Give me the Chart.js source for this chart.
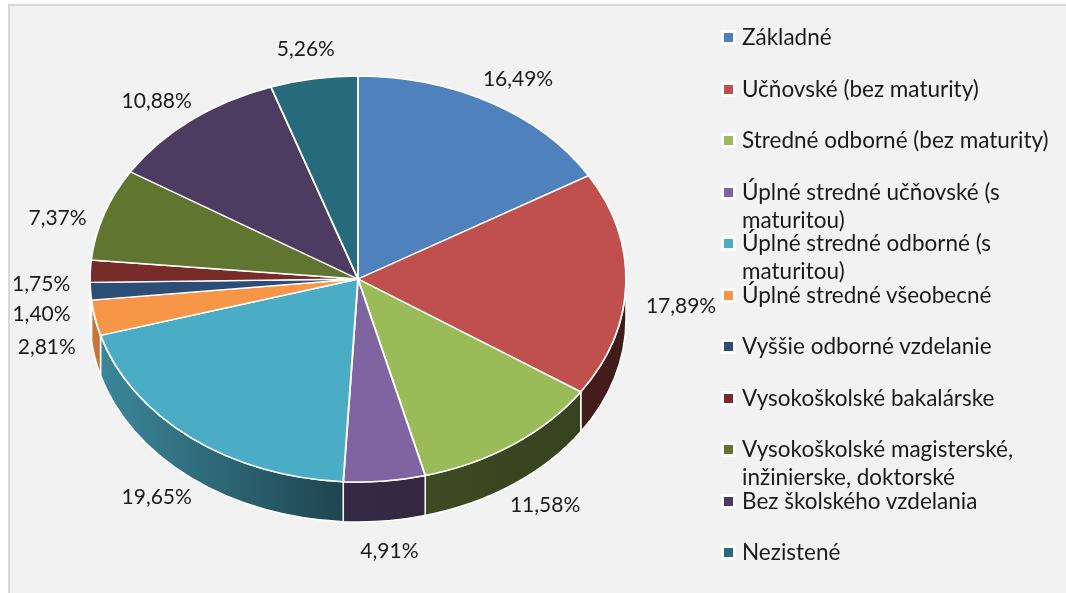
<!DOCTYPE html>
<html>
<head>
<meta charset="utf-8">
<script src="https://cdn.jsdelivr.net/npm/chart.js@4.4.1/dist/chart.umd.min.js"></script>
<style>
  html, body { margin: 0; padding: 0; background: #fff; width: 1066px; height: 593px; overflow: hidden; font-family: Lato, "Noto Sans", sans-serif; }
  #panel { position: absolute; left: 8px; top: 4px; width: 1070px; height: 600px; background: #f2f2f2; border: 2px solid #d9d9d9; box-sizing: border-box; }
  #chart { position: absolute; left: 0; top: 0; }
  #legend { position: absolute; left: 721px; top: 23px; }
  .item { position: absolute; left: 0; width: 345px; display: flex; align-items: flex-start; font-size: 22.5px; line-height: 28px; color: #1a1a1a; }
  .swatch { flex: none; width: 9px; height: 9px; border: 3px solid #fff; margin-top: 7px; margin-right: 6px; }
  .text { width: 320px; }
</style>
</head>
<body>
<div id="panel"></div>
<canvas id="chart" width="1066" height="593"></canvas>
<div id="legend"></div>
<script>
// === DATA ===
const categories = [
    "Základné",
    "Učňovské (bez maturity)",
    "Stredné odborné (bez maturity)",
    "Úplné stredné učňovské (s maturitou)",
    "Úplné stredné odborné (s maturitou)",
    "Úplné stredné všeobecné",
    "Vyššie odborné vzdelanie",
    "Vysokoškolské bakalárske",
    "Vysokoškolské magisterské, inžinierske, doktorské",
    "Bez školského vzdelania",
    "Nezistené"
];
const shares = [16.49, 17.89, 11.58, 4.91, 19.65, 2.81, 1.40, 1.75, 7.37, 10.88, 5.26];

// office 2010 palette
const colors = ["#4F81BD", "#C0504D", "#9BBB59", "#8064A2", "#4BACC6", "#F79646",
                "#2C4D75", "#772C2A", "#5F7530", "#4D3B62", "#276A7C"];

// === PIE GEOMETRY (screen) ===
const X0 = 358, Y0 = 279, RX = 268, RY = 203, DEPTH = 40;
const LABEL_FONT = "21px Lato, 'Noto Sans', sans-serif";
const LABEL_GAP_X = 20, LABEL_GAP_Y = 18;

function fmt(v) {
    return v.toFixed(2).replace(".", ",") + "%";
}

function shade(hex, f) {
    const n = parseInt(hex.slice(1), 16);
    const r = Math.round(((n >> 16) & 255) * f);
    const g = Math.round(((n >> 8) & 255) * f);
    const b = Math.round((n & 255) * f);
    return `rgb(${r},${g},${b})`;
}

// side walls of the 3d pie, from the arc elements
function drawWalls(ctx, arcs) {
    arcs.forEach((arc, i) => {
        const a0 = Math.max(arc.startAngle, 0);
        const a1 = Math.min(arc.endAngle, Math.PI);
        if (a1 <= a0) return;
        const grad = ctx.createLinearGradient(X0 - RX, 0, X0 + RX, 0);
        grad.addColorStop(0, shade(colors[i], 0.8));
        grad.addColorStop(0.45, shade(colors[i], 0.42));
        grad.addColorStop(1, shade(colors[i], 0.34));
        ctx.save();
        ctx.beginPath();
        ctx.moveTo(X0 + RX * Math.cos(a0), Y0 + RY * Math.sin(a0));
        ctx.ellipse(X0, Y0, RX, RY, 0, a0, a1);
        ctx.lineTo(X0 + RX * Math.cos(a1), Y0 + RY * Math.sin(a1) + DEPTH);
        ctx.ellipse(X0, Y0 + DEPTH, RX, RY, 0, a1, a0, true);
        ctx.closePath();
        ctx.fillStyle = grad;
        ctx.fill();
        ctx.strokeStyle = "#fff";
        ctx.lineWidth = 1.5;
        ctx.stroke();
        ctx.restore();
    });
}

function drawLabels(ctx, arcs) {
    ctx.save();
    ctx.font = LABEL_FONT;
    ctx.fillStyle = "#1a1a1a";
    ctx.textAlign = "center";
    ctx.textBaseline = "middle";
    const h = 24;
    const pos = arcs.map((arc, i) => {
        const mid = (arc.startAngle + arc.endAngle) / 2;
        const c = Math.cos(mid), s = Math.sin(mid);
        const txt = fmt(shares[i]);
        const w = ctx.measureText(txt).width;
        const x = X0 + (RX + LABEL_GAP_X + w / 2) * c;
        const y = Y0 + DEPTH / 2 + (RY + LABEL_GAP_Y + h / 2 + DEPTH / 2) * s;
        return { txt, x, y };
    });
    // push apart labels that sit too close on the same side
    for (let i = 1; i < pos.length; i++) {
        const a = pos[i - 1], b = pos[i];
        if (Math.abs(a.x - b.x) < 60 && Math.abs(a.y - b.y) < 30) {
            b.y = a.y - 30;
        }
    }
    pos.forEach(p => ctx.fillText(p.txt, p.x, p.y));
    ctx.restore();
}

const pie3d = {
    id: "pie3d",
    beforeDatasetsDraw(chart) {
        const ctx = chart.ctx;
        const arcs = chart.getDatasetMeta(0).data;
        drawWalls(ctx, arcs);
        const a = arcs[0];
        ctx.save();
        ctx.translate(X0, Y0);
        ctx.scale(RX / a.outerRadius, RY / a.outerRadius);
        ctx.translate(-a.x, -a.y);
    },
    afterDatasetsDraw(chart) {
        chart.ctx.restore();
        drawLabels(chart.ctx, chart.getDatasetMeta(0).data);
    }
};

new Chart(document.getElementById("chart"), {
    type: "pie",
    data: {
        labels: categories,
        datasets: [{
            data: shares,
            backgroundColor: colors,
            borderColor: "#fff",
            borderWidth: 2,
            clip: false
        }]
    },
    options: {
        responsive: false,
        animation: false,
        plugins: {
            legend: { display: false },
            tooltip: { enabled: false }
        }
    },
    plugins: [pie3d]
});

// === LEGEND ===
const legend = document.getElementById("legend");
categories.forEach((name, i) => {
    const item = document.createElement("div");
    item.className = "item";
    item.style.top = (i * 51.5) + "px";
    const sw = document.createElement("span");
    sw.className = "swatch";
    sw.style.background = colors[i];
    const tx = document.createElement("span");
    tx.className = "text";
    tx.textContent = name;
    item.appendChild(sw);
    item.appendChild(tx);
    legend.appendChild(item);
});
</script>
</body>
</html>
